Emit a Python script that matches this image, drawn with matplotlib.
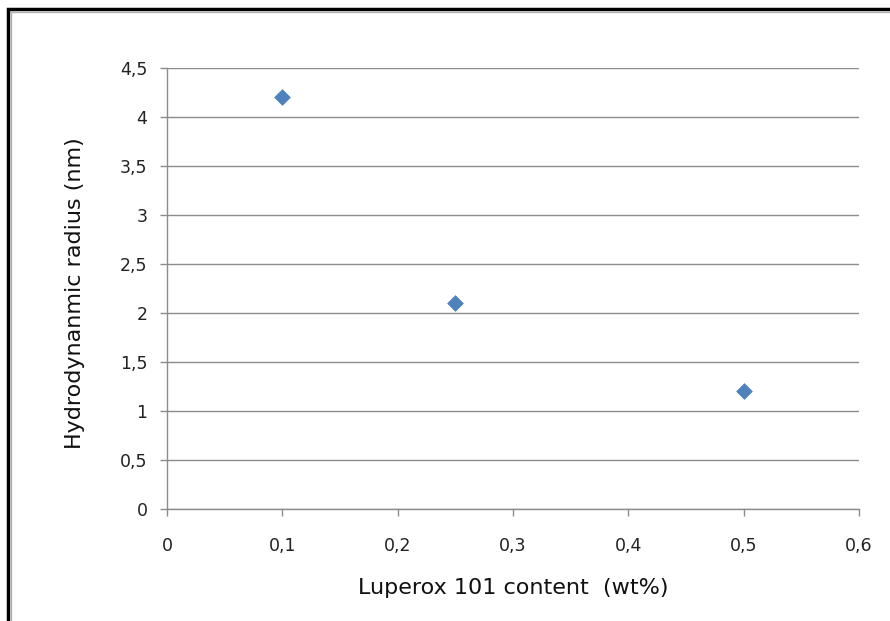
import matplotlib
matplotlib.use("Agg")
import matplotlib.pyplot as plt
from matplotlib.ticker import FuncFormatter
from matplotlib.patches import Rectangle

luperox_wt = [0.1, 0.25, 0.5]
radius_nm = [4.2, 2.1, 1.2]
x_ticks = [0, 0.1, 0.2, 0.3, 0.4, 0.5, 0.6]
y_ticks = [0, 0.5, 1, 1.5, 2, 2.5, 3, 3.5, 4, 4.5]

plt.rcParams['font.family'] = ['DejaVu Sans']

fig = plt.figure(figsize=(8.9, 6.21), dpi=100)
W, H = 890, 621
x0, x1, y0, y1 = 167, 859, 509, 68
ax = fig.add_axes([x0 / W, 1 - y0 / H, (x1 - x0) / W, (y0 - y1) / H])

grid_c = '#8c8c8c'
ax.scatter(luperox_wt, radius_nm, marker='D', s=64, color='#4F81BD',
           edgecolor='#4F81BD', linewidth=0.5, zorder=3, clip_on=False)

ax.set_xlim(0, 0.6)
ax.set_ylim(0, 4.5)
ax.set_xticks(x_ticks)
ax.set_yticks(y_ticks)

def comma(v, pos):
    return f"{v:g}".replace('.', ',')

ax.xaxis.set_major_formatter(FuncFormatter(comma))
ax.yaxis.set_major_formatter(FuncFormatter(comma))

ax.yaxis.grid(True, color=grid_c, linewidth=1.0)
ax.set_axisbelow(True)
for side in ('top', 'right'):
    ax.spines[side].set_visible(False)
for side in ('left', 'bottom'):
    ax.spines[side].set_color(grid_c)
    ax.spines[side].set_linewidth(1.0)

ax.tick_params(axis='both', direction='out', length=5, width=1.0,
               color=grid_c, labelsize=12.5, labelcolor='#222222')
ax.tick_params(axis='x', pad=15)
ax.tick_params(axis='y', pad=9)

ax.set_xlabel('Luperox 101 content  (wt%)', fontsize=16, color='#111111', va='center')
ax.set_ylabel('Hydrodynanmic radius (nm)', fontsize=16, color='#111111', va='center')
ax.xaxis.set_label_coords((513 - x0) / (x1 - x0), -(588 - y0) / (y0 - y1))
ax.yaxis.set_label_coords(-(x0 - 75) / (x1 - x0), (y0 - 293) / (y0 - y1))

# chart frame: thick black outer border with a thin gray inner edge
fig.add_artist(Rectangle((8 / W, -0.05), 1.1, 1 - 9 / H + 0.05, transform=fig.transFigure,
                         fill=False, edgecolor='black', linewidth=2.5))
fig.add_artist(Rectangle((10.5 / W, -0.05), 1.1, 1 - 11.5 / H + 0.05, transform=fig.transFigure,
                         fill=False, edgecolor='#b0b0b0', linewidth=1.0))

fig.savefig('out.png', dpi=100)
